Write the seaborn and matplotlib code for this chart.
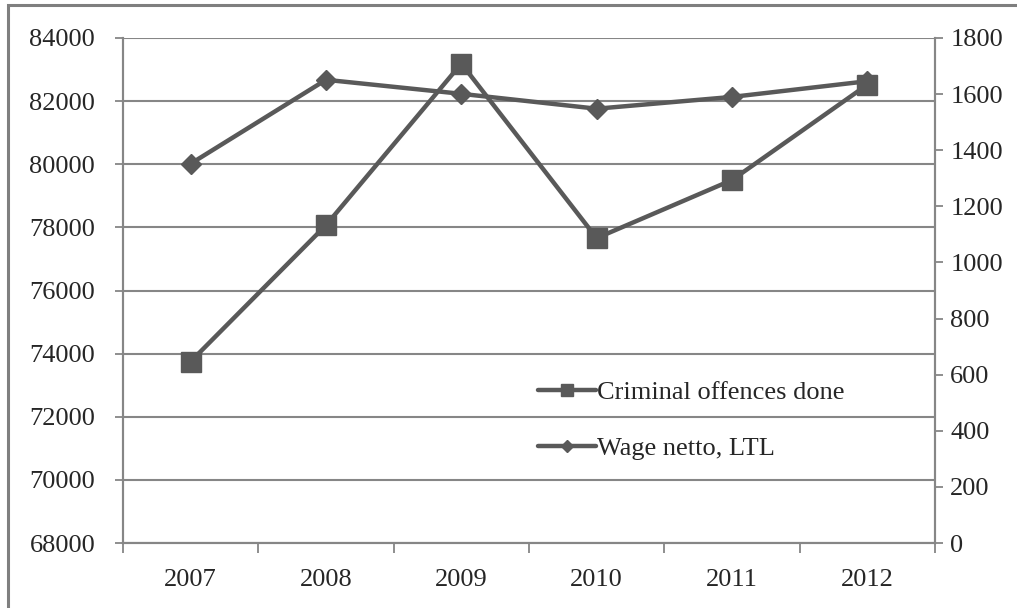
import numpy as np
import pandas as pd
import seaborn as sns
import matplotlib.pyplot as plt
from matplotlib.patches import Rectangle
from matplotlib.lines import Line2D

# ---------- data ----------
years = ["2007", "2008", "2009", "2010", "2011", "2012"]
offences = [73750, 78070, 83190, 77660, 79500, 82520]   # left axis
wage = [1352, 1651, 1601, 1548, 1590, 1646]              # right axis, LTL

left_ticks = list(range(68000, 84001, 2000))
right_ticks = list(range(0, 1801, 200))

LINE = "#595959"
GRID = "#868686"

sns.set_style("white")
plt.rcParams["font.family"] = ["Liberation Serif", "DejaVu Serif"]

df = pd.DataFrame({"pos": np.arange(len(years)), "offences": offences, "wage": wage})

fig = plt.figure(figsize=(10.17, 6.08), dpi=100)
ax = fig.add_axes([123 / 1017, 1 - 543 / 608, (935 - 123) / 1017, (543 - 38) / 608])
ax2 = ax.twinx()

sns.lineplot(data=df, x="pos", y="offences", ax=ax, color=LINE, lw=3.2,
             marker="s", markersize=14, markeredgecolor=LINE, markeredgewidth=1)
sns.lineplot(data=df, x="pos", y="wage", ax=ax2, color=LINE, lw=3.2,
             marker="D", markersize=10, markeredgecolor=LINE, markeredgewidth=1)

# left axis
ax.set_ylim(68000, 84000)
ax.set_yticks(left_ticks)
ax.yaxis.grid(True, color=GRID, lw=1.5)
ax.set_axisbelow(True)
ax.set_ylabel("")
ax.set_xlabel("")
ax.tick_params(axis="y", direction="out", length=6, width=1.3, color=GRID,
               labelsize=19, pad=14, left=True)

# right axis
ax2.set_ylim(0, 1800)
ax2.set_yticks(right_ticks)
ax2.set_ylabel("")
ax2.tick_params(axis="y", direction="out", length=6, width=1.3, color=GRID,
                labelsize=19, pad=5, right=True)

# category x axis, ticks between categories
ax.set_xlim(-0.5, len(years) - 0.5)
ax.set_xticks(np.arange(-0.5, len(years), 1.0))
ax.set_xticklabels([])
ax.set_xticks(np.arange(len(years)), minor=True)
ax.set_xticklabels(years, minor=True)
ax.tick_params(axis="x", which="major", direction="out", length=7, width=1.3,
               color=GRID, bottom=True)
ax.tick_params(axis="x", which="minor", length=0, labelsize=19, pad=19)

for a in (ax, ax2):
    a.spines["top"].set_visible(False)
    for side in ("left", "right", "bottom"):
        a.spines[side].set_color(GRID)
        a.spines[side].set_linewidth(1.5)

handles = [
    Line2D([], [], color=LINE, lw=3.2, marker="s", markersize=8.5, markeredgecolor=LINE),
    Line2D([], [], color=LINE, lw=3.2, marker="D", markersize=6, markeredgecolor=LINE),
]
ax2.legend(handles, ["Criminal offences done", "Wage netto, LTL"],
           loc="upper left", bbox_to_anchor=(0.511, 0.322), frameon=False,
           fontsize=19, handlelength=2.2, handletextpad=0.05,
           labelspacing=1.25, borderpad=0, borderaxespad=0)

# outer chart frame (only top and left edges are visible in the crop)
fig.patches.append(Rectangle((8 / 1017, -0.1), 1.2, 1.1 - 5 / 608,
                             transform=fig.transFigure, fill=False,
                             edgecolor="#7f7f7f", lw=2.2))

fig.savefig("out.png", dpi=100)
